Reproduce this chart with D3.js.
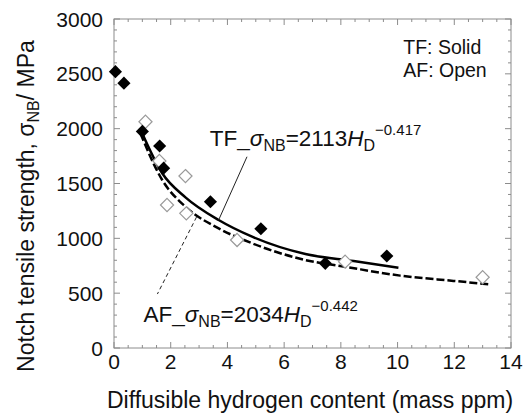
<!DOCTYPE html>
<html>
<head>
<meta charset="utf-8">
<script src="https://cdn.jsdelivr.net/npm/d3@7/dist/d3.min.js"></script>
<style>
  body { margin: 0; background: #fff; }
  svg { display: block; font-family: "Liberation Sans", Arial, sans-serif; }
  .frame { fill: none; stroke: #8c8c8c; stroke-width: 1; }
  .tick-mark { stroke: #8c8c8c; stroke-width: 1; }
  .tick-label { font-size: 21px; fill: #111; }
  .axis-title { font-size: 23px; fill: #111; }
  .fit-label { font-size: 22.5px; fill: #111; }
  .legend-text { font-size: 19.5px; fill: #111; }
</style>
</head>
<body>
<svg id="chart" width="528" height="414"></svg>
<script>
// measured points, TF (solid) and AF (open)
var hydrogenTF = [0.05, 0.35, 1.0, 1.61, 1.75, 3.40, 5.18, 7.45, 9.62];
var strengthTF = [2520, 2415, 1975, 1842, 1640, 1334, 1087, 772, 839];
var hydrogenAF = [1.11, 1.60, 1.87, 2.52, 2.55, 4.34, 8.15, 13.0];
var strengthAF = [2063, 1705, 1304, 1568, 1228, 985, 787, 645];

// fitted curves
var fitHydrogenTF = [0.97, 1.70, 2.52, 3.69, 4.87, 6.75, 8.45, 10.03];
var fitStrengthTF = [1972, 1593, 1374, 1167, 1015, 857, 793, 732];
var fitHydrogenAF = [0.93, 1.70, 2.52, 3.69, 4.87, 6.75, 8.15, 10.09, 11.97, 13.2];
var fitStrengthAF = [1958, 1532, 1288, 1091, 955, 802, 741, 660, 612, 582];

var xTicks = [0, 2, 4, 6, 8, 10, 12, 14];
var yTicks = [0, 500, 1000, 1500, 2000, 2500, 3000];

(function() {
  var svg = d3.select('#chart');

  var x = d3.scaleLinear().domain([0, 14]).range([114, 511]),
    y = d3.scaleLinear().domain([0, 3000]).range([348, 19]);

  var majorLen = 6, minorLen = 3;

  //// FRAME & TICKS ////
  svg.append('rect')
    .attr('class', 'frame')
    .attr('x', x(0)).attr('y', y(3000))
    .attr('width', x(14) - x(0)).attr('height', y(0) - y(3000));

  var g = svg.append('g').attr('class', 'ticks');

  d3.range(0, 14.01, 0.5).forEach(function(v) {
    var len = (v % 2 === 0) ? majorLen : minorLen;
    g.append('line').attr('class', 'tick-mark')
      .attr('x1', x(v)).attr('x2', x(v))
      .attr('y1', y(0)).attr('y2', y(0) - len);
    g.append('line').attr('class', 'tick-mark')
      .attr('x1', x(v)).attr('x2', x(v))
      .attr('y1', y(3000)).attr('y2', y(3000) + len);
  });
  d3.range(0, 3001, 100).forEach(function(v) {
    var len = (v % 500 === 0) ? majorLen : minorLen;
    g.append('line').attr('class', 'tick-mark')
      .attr('x1', x(0)).attr('x2', x(0) + len)
      .attr('y1', y(v)).attr('y2', y(v));
    g.append('line').attr('class', 'tick-mark')
      .attr('x1', x(14)).attr('x2', x(14) - len)
      .attr('y1', y(v)).attr('y2', y(v));
  });

  svg.selectAll('text.x-label').data(xTicks).enter()
    .append('text')
      .attr('class', 'tick-label x-label')
      .attr('x', function(d) { return x(d); })
      .attr('y', 369)
      .attr('text-anchor', 'middle')
      .text(function(d) { return d; });

  svg.selectAll('text.y-label').data(yTicks).enter()
    .append('text')
      .attr('class', 'tick-label y-label')
      .attr('x', 103)
      .attr('y', function(d) { return y(d) + 7.5; })
      .attr('text-anchor', 'end')
      .text(function(d) { return d; });

  //// AXIS TITLES ////
  svg.append('text')
    .attr('class', 'axis-title')
    .attr('x', 310).attr('y', 408)
    .attr('text-anchor', 'middle')
    .text('Diffusible hydrogen content (mass ppm)');

  var yt = svg.append('text')
    .attr('class', 'axis-title')
    .attr('transform', 'translate(34,206) rotate(-90)')
    .attr('text-anchor', 'middle');
  yt.append('tspan').text('Notch tensile strength, σ');
  yt.append('tspan').attr('dy', 5).style('font-size', '16px').text('NB');
  yt.append('tspan').attr('dy', -5).text('/ MPa');

  //// FIT CURVES ////
  var line = d3.line()
    .x(function(d) { return x(d[0]); })
    .y(function(d) { return y(d[1]); })
    .curve(d3.curveMonotoneX);

  svg.append('path')
    .datum(d3.zip(fitHydrogenTF, fitStrengthTF))
    .attr('d', line)
    .attr('fill', 'none')
    .attr('stroke', '#000')
    .attr('stroke-width', 2.5);

  svg.append('path')
    .datum(d3.zip(fitHydrogenAF, fitStrengthAF))
    .attr('d', line)
    .attr('fill', 'none')
    .attr('stroke', '#000')
    .attr('stroke-width', 2.5)
    .attr('stroke-dasharray', '8,3');

  //// POINTS ////
  var diamond = d3.symbol().type(d3.symbolDiamond2).size(110);

  svg.selectAll('path.af').data(d3.zip(hydrogenAF, strengthAF)).enter()
    .append('path')
      .attr('class', 'af')
      .attr('d', diamond)
      .attr('transform', function(d) { return 'translate(' + x(d[0]) + ',' + y(d[1]) + ')'; })
      .attr('fill', '#fff')
      .attr('stroke', '#9a9a9a')
      .attr('stroke-width', 1.2);

  svg.selectAll('path.tf').data(d3.zip(hydrogenTF, strengthTF)).enter()
    .append('path')
      .attr('class', 'tf')
      .attr('d', diamond)
      .attr('transform', function(d) { return 'translate(' + x(d[0]) + ',' + y(d[1]) + ')'; })
      .attr('fill', '#000');

  //// ANNOTATIONS ////
  svg.append('line')
    .attr('x1', x(4.69)).attr('y1', y(1744))
    .attr('x2', x(3.69)).attr('y2', y(1167))
    .attr('stroke', '#222').attr('stroke-width', 1);

  svg.append('line')
    .attr('x1', x(2.91)).attr('y1', y(1194))
    .attr('x2', x(1.53)).attr('y2', y(492))
    .attr('stroke', '#222').attr('stroke-width', 1)
    .attr('stroke-dasharray', '4,3');

  function fitLabel(px, py, series, coef, expo) {
    var t = svg.append('text').attr('class', 'fit-label').attr('x', px).attr('y', py);
    t.append('tspan').text(series + '_');
    t.append('tspan').style('font-style', 'italic').text('σ');
    t.append('tspan').attr('dy', 5).style('font-size', '16px').text('NB');
    t.append('tspan').attr('dy', -5).text('=' + coef);
    t.append('tspan').style('font-style', 'italic').text('H');
    t.append('tspan').attr('dy', 5).style('font-size', '16px').text('D');
    t.append('tspan').attr('dy', -16).style('font-size', '15px').text(expo);
  }
  fitLabel(x(3.38), y(1842), 'TF', 2113, '−0.417');
  fitLabel(x(1.04), y(237), 'AF', 2034, '−0.442');

  svg.append('text').attr('class', 'legend-text')
    .attr('x', x(10.2)).attr('y', y(2681)).text('TF: Solid');
  svg.append('text').attr('class', 'legend-text')
    .attr('x', x(10.2)).attr('y', y(2471)).text('AF: Open');
})();
</script>
</body>
</html>
